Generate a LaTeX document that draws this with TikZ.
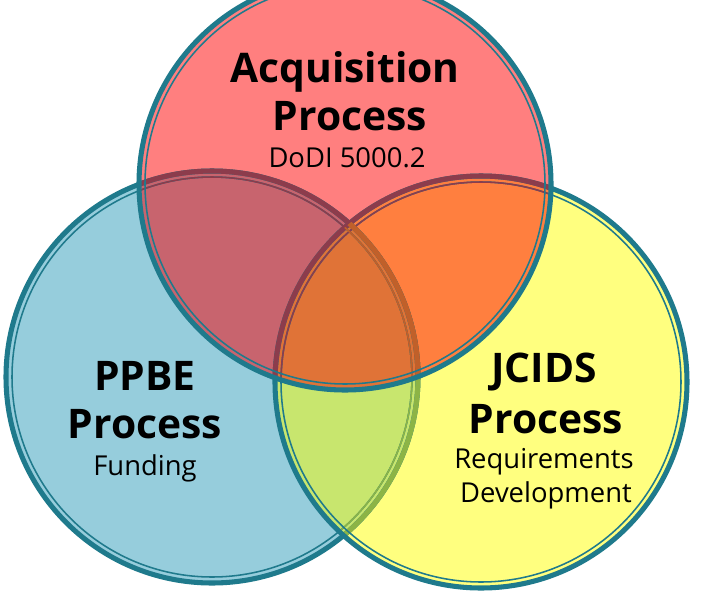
\documentclass[tikz,border=0pt]{standalone}
\usepackage{fontspec}
\setmainfont{Open Sans}
\usetikzlibrary{positioning}

\definecolor{ringteal}{HTML}{1F7A8C}
\definecolor{acqred}{HTML}{FF7F7F}
\definecolor{ppbeblue}{HTML}{96CDDC}
\definecolor{jcidsyellow}{HTML}{FFFF7F}
\definecolor{redblue}{HTML}{C8646E}
\definecolor{redyellow}{HTML}{FF7F3F}
\definecolor{blueyellow}{HTML}{C8E66E}
\definecolor{allthree}{HTML}{E07337}
\definecolor{underred}{HTML}{8C3C4C}
\definecolor{underyellow}{HTML}{8CB446}
\definecolor{underboth}{HTML}{C0602A}

\tikzset{
    ringout/.style={line width=3.6pt},
    ringin/.style={line width=1.1pt},
    title/.style={anchor=base, inner sep=0pt, font=\bfseries\fontsize{29}{34}\selectfont},
    note/.style={anchor=base, inner sep=0pt, font=\fontsize{19.5}{24}\selectfont}
}
\newcommand{\vennring}[2]{%
    \draw[ringout,#2] (#1) circle[radius=206];
    \draw[ringin,#2] (#1) circle[radius=200];}

\begin{document}
\begin{tikzpicture}[x=0.025cm, y=-0.025cm]
    \useasboundingbox (0,0) rectangle (712,600);
    \fill[white] (0,0) rectangle (712,600);
    \coordinate (acq) at (345,184);
    \coordinate (ppbe) at (212,377);
    \coordinate (jcids) at (481,382);
    % discs
    \fill[ppbeblue] (ppbe) circle[radius=206];
    \fill[jcidsyellow] (jcids) circle[radius=206];
    \fill[acqred] (acq) circle[radius=206];
    % overlaps
    \begin{scope}
        \clip (ppbe) circle[radius=206];
        \fill[blueyellow] (jcids) circle[radius=206];
    \end{scope}
    \begin{scope}
        \clip (acq) circle[radius=206];
        \fill[redblue] (ppbe) circle[radius=206];
        \fill[redyellow] (jcids) circle[radius=206];
        \clip (ppbe) circle[radius=206];
        \fill[allthree] (jcids) circle[radius=206];
    \end{scope}
    % rings, lower ones tinted where covered
    \vennring{ppbe}{ringteal}
    \begin{scope}
        \clip (jcids) circle[radius=206];
        \vennring{ppbe}{underyellow}
    \end{scope}
    \vennring{jcids}{ringteal}
    \begin{scope}
        \clip (acq) circle[radius=206];
        \vennring{ppbe}{underred}
        \vennring{jcids}{underred}
        \clip (jcids) circle[radius=206];
        \vennring{ppbe}{underboth}
    \end{scope}
    \vennring{acq}{ringteal}
    % labels
    \node[title] (acqtop) at (345,82) {Acquisition};
    \node[title] (acqmid) at (350,130) {Process};
    \node[note] (acqsub) at (347,167) {DoDI 5000.2};
    \node[title] (ppbetop) at (145,390) {PPBE};
    \node[title] (ppbemid) at (145,438) {Process};
    \node[note] (ppbesub) at (145,475) {Funding};
    \node[title] (jcidstop) at (544,382) {JCIDS};
    \node[title] (jcidsmid) at (546,433) {Process};
    \node[note] (jcidssub) at (544,468) {Requirements};
    \node[note] (jcidsdev) at (546,502) {Development};
\end{tikzpicture}
\end{document}
